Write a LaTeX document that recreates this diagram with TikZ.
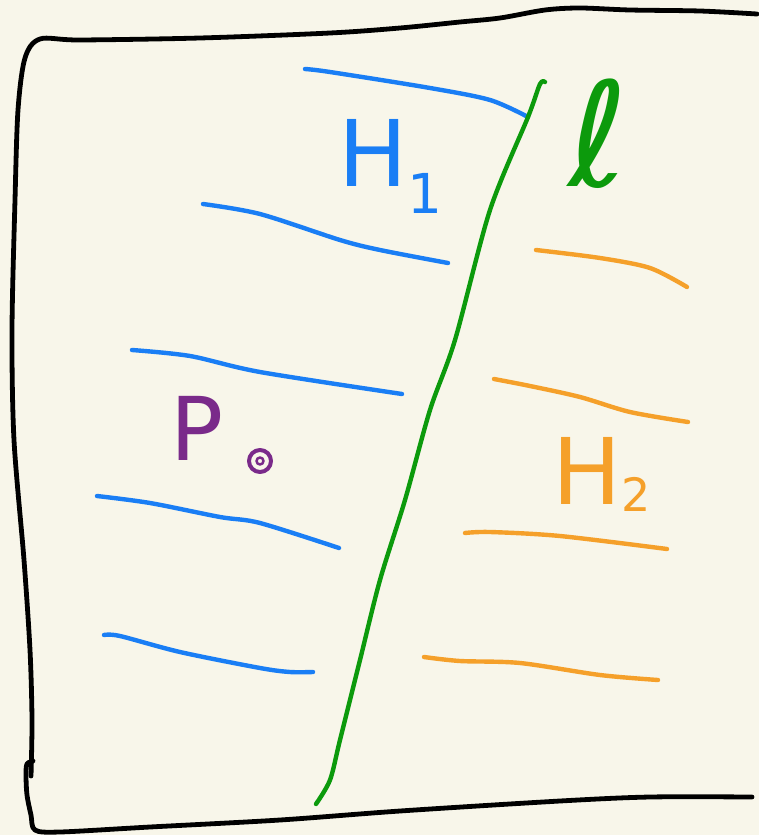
\documentclass[tikz,border=0pt]{standalone}
\usepackage{fontspec}
\setmainfont{DejaVu Sans}
\usepackage{xcolor}
\definecolor{paper}{HTML}{F8F6EA}
\definecolor{hblue}{HTML}{1A7EF5}
\definecolor{lgreen}{HTML}{0C9A0C}
\definecolor{horange}{HTML}{F5A02A}
\definecolor{ppurple}{HTML}{7A2A8A}

\begin{document}
\begin{tikzpicture}[x=1pt,y=-1pt,line cap=round,line join=round,
 frame/.style={draw=black,line width=4.8pt},
 blueline/.style={draw=hblue,line width=4.4pt},
 orangeline/.style={draw=horange,line width=4.4pt},
 greenline/.style={draw=lgreen,line width=4.4pt},
 handlbl/.style={inner sep=0pt,anchor=base west}]
    \fill[paper] (0,0) rectangle (759,835);
    \useasboundingbox (0,0) rectangle (759,835);
    % frame
    \draw[frame] plot[smooth,tension=0.5] coordinates {(31,776) (32,720)
      (30,650) (24,560) (14,440) (12,330) (15,200) (18,110) (25,58) (40,39)
      (80,40) (200,38) (330,33) (400,28) (460,22) (500,18) (545,10) (580,8)
      (630,10) (700,11) (757,14)};
    \draw[frame] plot[smooth,tension=0.5] coordinates {(33,761) (27,764)
      (26,775) (27,795) (31,815) (35,830) (60,832) (150,827) (280,820)
      (400,811) (560,801) (650,797) (752,797)};
    % half-plane H1
    \draw[blueline] plot[smooth] coordinates {(305,69) (330,72) (430,88) (490,100) (528,117)};
    \draw[blueline] plot[smooth] coordinates {(203,204) (260,214) (340,240) (380,250) (448,263)};
    \draw[blueline] plot[smooth] coordinates {(132,350) (190,356) (260,372) (402,394)};
    \draw[blueline] plot[smooth] coordinates {(97,496) (150,503) (220,517) (260,523) (339,548)};
    \draw[blueline] plot[smooth] coordinates {(104,635) (120,636) (180,652) (260,668) (290,672) (313,672)};
    % half-plane H2
    \draw[orangeline] plot[smooth] coordinates {(536,250) (600,258) (650,268) (687,287)};
    \draw[orangeline] plot[smooth] coordinates {(494,379) (530,386) (580,397) (630,412) (688,422)};
    \draw[orangeline] plot[smooth] coordinates {(465,533) (490,532) (560,536) (667,549)};
    \draw[orangeline] plot[smooth] coordinates {(424,657) (460,661) (520,663) (600,675) (658,680)};
    % line l
    \draw[greenline] plot[smooth,tension=0.5] coordinates {(545,82) (540,84) (528,117)
      (490,210) (455,340) (430,410) (405,500) (380,580) (360,660) (340,740)
      (330,780) (316,804)};
    % labels
    \node[handlbl,text=hblue,font=\fontsize{92}{92}\selectfont] (h1) at (338,186)
      {H\raisebox{-0.3em}{\fontsize{55}{55}\selectfont 1}};
    \node[handlbl,text=lgreen,font=\fontsize{145}{145}\selectfont] (ell) at (568,186) {ℓ};
    \node[handlbl,text=horange,font=\fontsize{92}{92}\selectfont] (h2) at (552,504)
      {H\raisebox{-0.08em}{\fontsize{46}{46}\selectfont 2}};
    \node[handlbl,text=ppurple,font=\fontsize{88}{88}\selectfont] (p) at (170,460) {P};
    \node[circle,draw=ppurple,line width=4pt,minimum size=22pt,inner sep=0pt] (pt) at (260,461) {};
    \draw[ppurple,line width=2.5pt] (pt.center) circle (3.5pt);
\end{tikzpicture}
\end{document}
